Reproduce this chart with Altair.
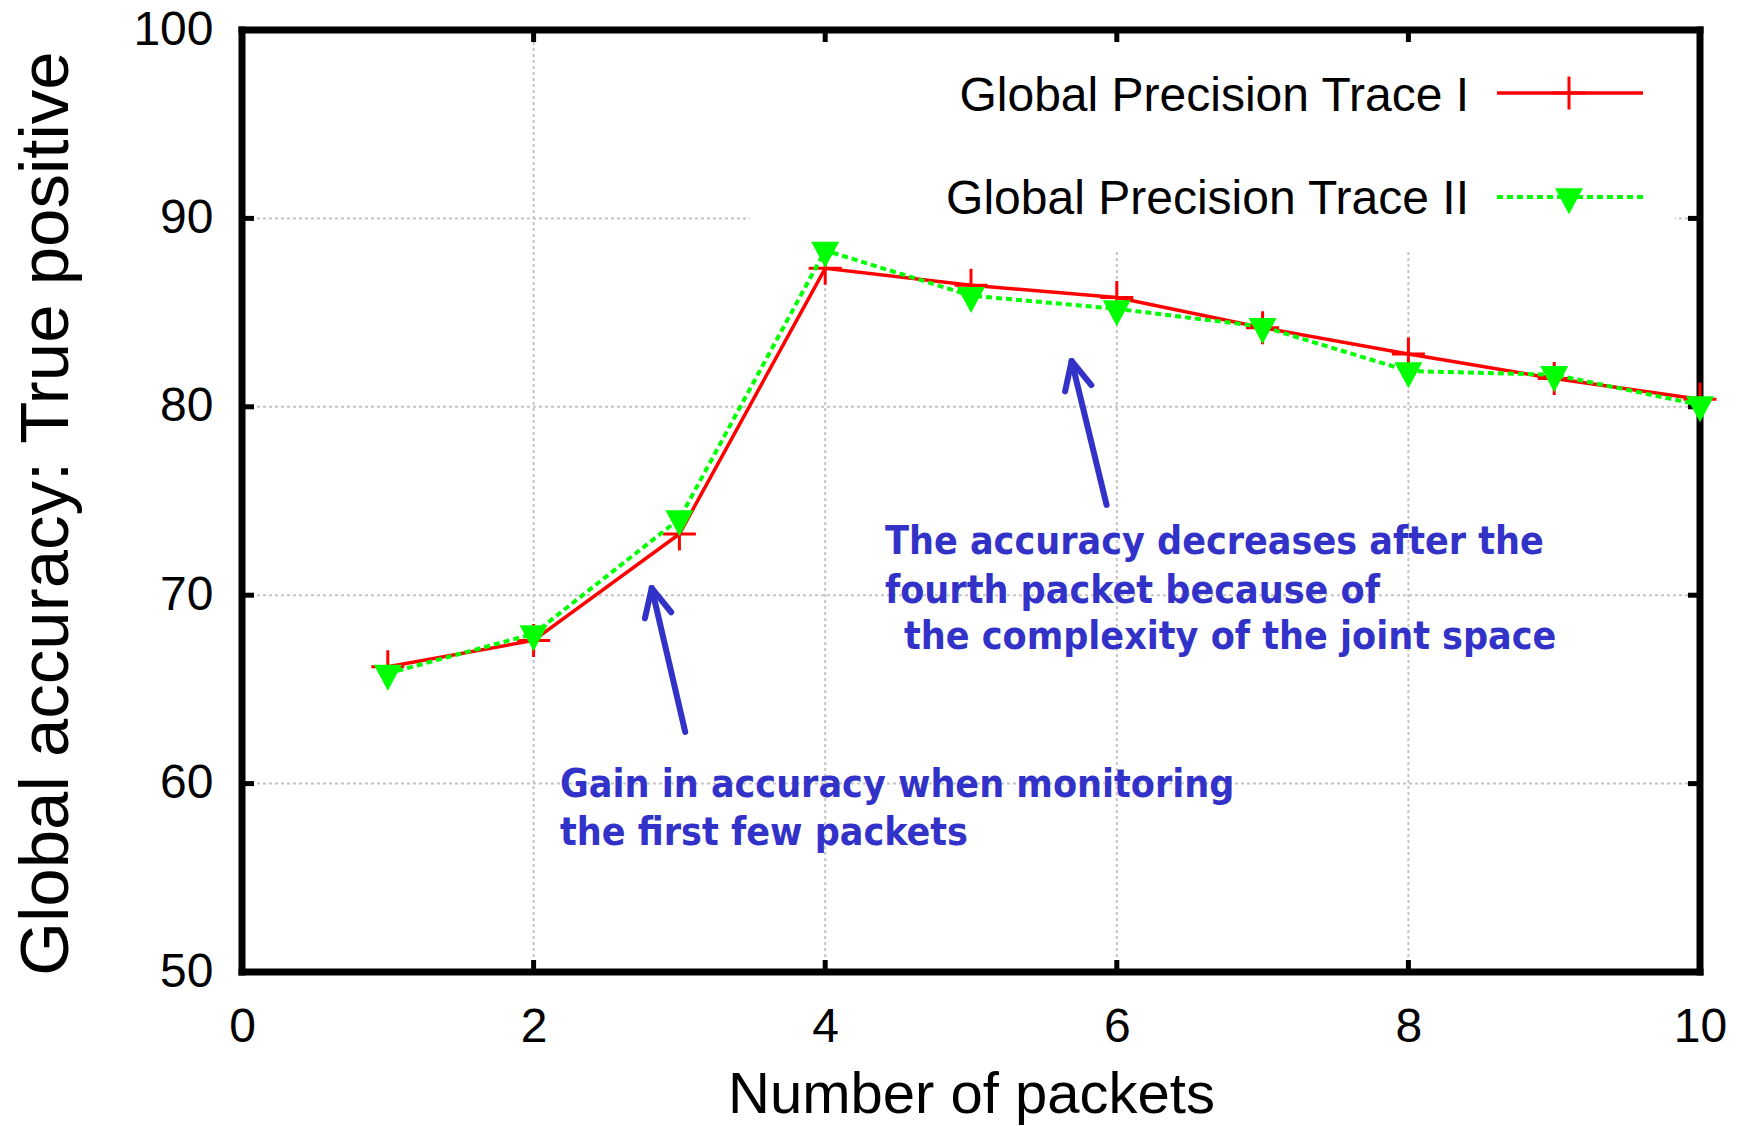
import math
import altair as alt
import pandas as pd

# ---- data -------------------------------------------------------------
PACKETS = [1, 2, 3, 4, 5, 6, 7, 8, 9, 10]
TRACE_I = [66.2, 67.6, 73.25, 87.35, 86.45, 85.8, 84.2, 82.8, 81.5, 80.4]
TRACE_II = [65.85, 67.95, 74.05, 88.3, 85.9, 85.2, 84.25, 81.9, 81.7, 80.1]
SERIES = ["Global Precision Trace I", "Global Precision Trace II"]

X_DOMAIN = [0, 10]
Y_DOMAIN = [50, 100]
X_TICKS = [0, 2, 4, 6, 8, 10]
Y_TICKS = [50, 60, 70, 80, 90, 100]

X_TITLE = "Number of packets"
Y_TITLE = "Global accuracy: True positive"

NOTE_GAIN = ["Gain in accuracy when monitoring", "the first few packets"]
NOTE_DROP = ["The accuracy decreases after the", "fourth packet because of",
             "the complexity of the joint space"]
# arrow (tip, tail) in data units
ARROW_GAIN = ((2.81, 70.38), (3.04, 62.74))
ARROW_DROP = ((5.69, 82.43), (5.93, 74.79))

# ---- layout / style ---------------------------------------------------
W, H = 1458, 942
PAD = {"left": 242, "top": 30, "right": 40, "bottom": 154}
PX_X = W / (X_DOMAIN[1] - X_DOMAIN[0])
PX_Y = H / (Y_DOMAIN[1] - Y_DOMAIN[0])

RED = "#ff0000"
GREEN = "#00ff00"
BLUE = "#3232c8"
GRID = "#c4c4c4"
AXIS_FONT = "Liberation Sans"
NOTE_FONT = "DejaVu Sans Condensed, DejaVu Sans"

PLUS = "M-1,0L1,0M0,-1L0,1"
TRI_DOWN = "M-1,-0.62L1,-0.62L0,1.24Z"

xs = alt.Scale(domain=X_DOMAIN, nice=False, zero=False)
ys = alt.Scale(domain=Y_DOMAIN, nice=False, zero=False)

x_axis = alt.Axis(values=X_TICKS, format="d", domain=False, ticks=False, tickSize=0,
                  grid=False, labelFont=AXIS_FONT, labelFontSize=48, labelColor="black",
                  labelPadding=31, labelFlush=False, labelOverlap=False,
                  title=X_TITLE, titleFont=AXIS_FONT, titleFontSize=58,
                  titleFontWeight="normal", titleColor="black",
                  titleBaseline="alphabetic", titleY=140)
y_axis = alt.Axis(values=Y_TICKS, format="d", domain=False, ticks=False, tickSize=0,
                  grid=False, labelFont=AXIS_FONT, labelFontSize=48, labelColor="black",
                  labelPadding=29, labelFlush=False, labelOverlap=False,
                  title=Y_TITLE, titleFont=AXIS_FONT, titleFontSize=69,
                  titleFontWeight="normal", titleColor="black", titleAngle=270,
                  titleAlign="center", titleBaseline="alphabetic",
                  titleX=-175, titleY=483)

series_df = pd.DataFrame({
    "x": PACKETS * 2,
    "y": TRACE_I + TRACE_II,
    "series": [SERIES[0]] * len(PACKETS) + [SERIES[1]] * len(PACKETS),
})
one_row = pd.DataFrame({"k": [0]})


def X(field="x"):
    return alt.X(f"{field}:Q", scale=xs, axis=x_axis)


def Y(field="y"):
    return alt.Y(f"{field}:Q", scale=ys, axis=y_axis)


# dotted grid at the inner major ticks
grid_x = alt.Chart(pd.DataFrame({"x": X_TICKS[1:-1]})).mark_rule(
    color=GRID, strokeWidth=2, strokeDash=[3, 3]).encode(x=X())
grid_y = alt.Chart(pd.DataFrame({"y": Y_TICKS[1:-1]})).mark_rule(
    color=GRID, strokeWidth=2, strokeDash=[3, 3]).encode(y=Y())

# opaque key background
key_box = alt.Chart(one_row).mark_rect(color="white").encode(
    x=alt.value(508), x2=alt.value(1433), y=alt.value(0), y2=alt.value(220))

# plot frame
frame_df = pd.DataFrame({
    "x": [X_DOMAIN[0], X_DOMAIN[0], X_DOMAIN[0], X_DOMAIN[1]],
    "x2": [X_DOMAIN[1], X_DOMAIN[1], X_DOMAIN[0], X_DOMAIN[1]],
    "y": [Y_DOMAIN[0], Y_DOMAIN[1], Y_DOMAIN[0], Y_DOMAIN[0]],
    "y2": [Y_DOMAIN[0], Y_DOMAIN[1], Y_DOMAIN[1], Y_DOMAIN[1]],
})
frame = alt.Chart(frame_df).mark_rule(color="black", strokeWidth=7, strokeCap="square").encode(
    x=X(), x2="x2:Q", y=Y(), y2="y2:Q")

# inward tick marks on all four sides
xt_df = pd.DataFrame([{"x": t, "y": b} for t in X_TICKS for b in Y_DOMAIN])
yt_df = pd.DataFrame([{"x": b, "y": t} for t in Y_TICKS for b in X_DOMAIN])
ticks_x = alt.Chart(xt_df).mark_tick(orient="vertical", size=24, thickness=5,
                                     color="black", opacity=1, clip=True).encode(x=X(), y=Y())
ticks_y = alt.Chart(yt_df).mark_tick(orient="horizontal", size=24, thickness=5,
                                     color="black", opacity=1, clip=True).encode(x=X(), y=Y())

# series
red_df = series_df[series_df.series == SERIES[0]]
green_df = series_df[series_df.series == SERIES[1]]
red_line = alt.Chart(red_df).mark_line(color=RED, strokeWidth=3.5).encode(x=X(), y=Y())
red_pts = alt.Chart(red_df).mark_point(shape=PLUS, size=1089, filled=False, color=RED,
                                       strokeWidth=3, opacity=1).encode(x=X(), y=Y())
green_line = alt.Chart(green_df).mark_line(color=GREEN, strokeWidth=4,
                                           strokeDash=[6, 4]).encode(x=X(), y=Y())
green_pts = alt.Chart(green_df).mark_point(shape=TRI_DOWN, size=784, filled=True, color=GREEN,
                                           opacity=1).encode(x=X(), y=Y())

# key entries
KEY_TEXT_X = 1227
KEY_LINE_X = (1255, 1401)
KEY_MARK_X = 1327
KEY_ROWS_Y = (63, 167)
KEY_TEXT_Y = (81, 184)
key_layers = []
for i, name in enumerate(SERIES):
    key_layers.append(alt.Chart(one_row).mark_text(
        text=name, align="right", baseline="alphabetic", font=AXIS_FONT, fontSize=48,
        color="black").encode(x=alt.value(KEY_TEXT_X), y=alt.value(KEY_TEXT_Y[i])))
key_layers.append(alt.Chart(one_row).mark_rule(color=RED, strokeWidth=3.5).encode(
    x=alt.value(KEY_LINE_X[0]), x2=alt.value(KEY_LINE_X[1]), y=alt.value(KEY_ROWS_Y[0])))
key_layers.append(alt.Chart(one_row).mark_point(shape=PLUS, size=1089, filled=False, color=RED,
                                                strokeWidth=3, opacity=1).encode(
    x=alt.value(KEY_MARK_X), y=alt.value(KEY_ROWS_Y[0])))
key_layers.append(alt.Chart(one_row).mark_rule(color=GREEN, strokeWidth=4, strokeDash=[6, 4]).encode(
    x=alt.value(KEY_LINE_X[0]), x2=alt.value(KEY_LINE_X[1]), y=alt.value(KEY_ROWS_Y[1])))
key_layers.append(alt.Chart(one_row).mark_point(shape=TRI_DOWN, size=784, filled=True, color=GREEN,
                                                opacity=1).encode(
    x=alt.value(KEY_MARK_X), y=alt.value(KEY_ROWS_Y[1])))


# annotation arrows: shaft plus an open head
def arrow_rows(name, tip, tail, head_len=28, head_half=13.5):
    tx, ty = tip[0] * PX_X, -tip[1] * PX_Y
    lx, ly = tail[0] * PX_X, -tail[1] * PX_Y
    dx, dy = lx - tx, ly - ty
    n = math.hypot(dx, dy)
    ux, uy = dx / n, dy / n
    px, py = -uy, ux
    w1 = (tx + head_len * ux + head_half * px, ty + head_len * uy + head_half * py)
    w2 = (tx + head_len * ux - head_half * px, ty + head_len * uy - head_half * py)
    back = lambda p: (p[0] / PX_X, -p[1] / PX_Y)
    rows = [
        {"key": name + "-shaft", "o": 0, "x": tail[0], "y": tail[1]},
        {"key": name + "-shaft", "o": 1, "x": tip[0], "y": tip[1]},
    ]
    for o, p in enumerate([back(w1), tip, back(w2)]):
        rows.append({"key": name + "-head", "o": o, "x": p[0], "y": p[1]})
    return rows


arrow_df = pd.DataFrame(arrow_rows("gain", *ARROW_GAIN) + arrow_rows("drop", *ARROW_DROP))
arrows = alt.Chart(arrow_df).mark_line(color=BLUE, strokeWidth=6, strokeCap="round",
                                       strokeJoin="round").encode(
    x=X(), y=Y(), detail="key:N", order="o:Q")

# annotation text lines (pixel positions inside the plot)
NOTE_POS = [(318, 767), (318, 815), (643, 524), (643, 573), (662, 619)]
note_layers = []
for txt, (px_, py_) in zip(NOTE_GAIN + NOTE_DROP, NOTE_POS):
    note_layers.append(alt.Chart(one_row).mark_text(
        text=txt, align="left", baseline="alphabetic", font=NOTE_FONT, fontSize=39,
        fontWeight="bold", color=BLUE).encode(x=alt.value(px_), y=alt.value(py_)))

chart = alt.layer(
    grid_x, grid_y, key_box, frame, ticks_x, ticks_y,
    red_line, red_pts, green_line, green_pts,
    *key_layers, arrows, *note_layers,
).properties(
    width=W, height=H, padding=PAD,
    autosize=alt.AutoSizeParams(type="none"),
    background="white",
).configure_view(stroke=None)

chart.save("out.html", embed_options={"renderer": "svg", "actions": False})
